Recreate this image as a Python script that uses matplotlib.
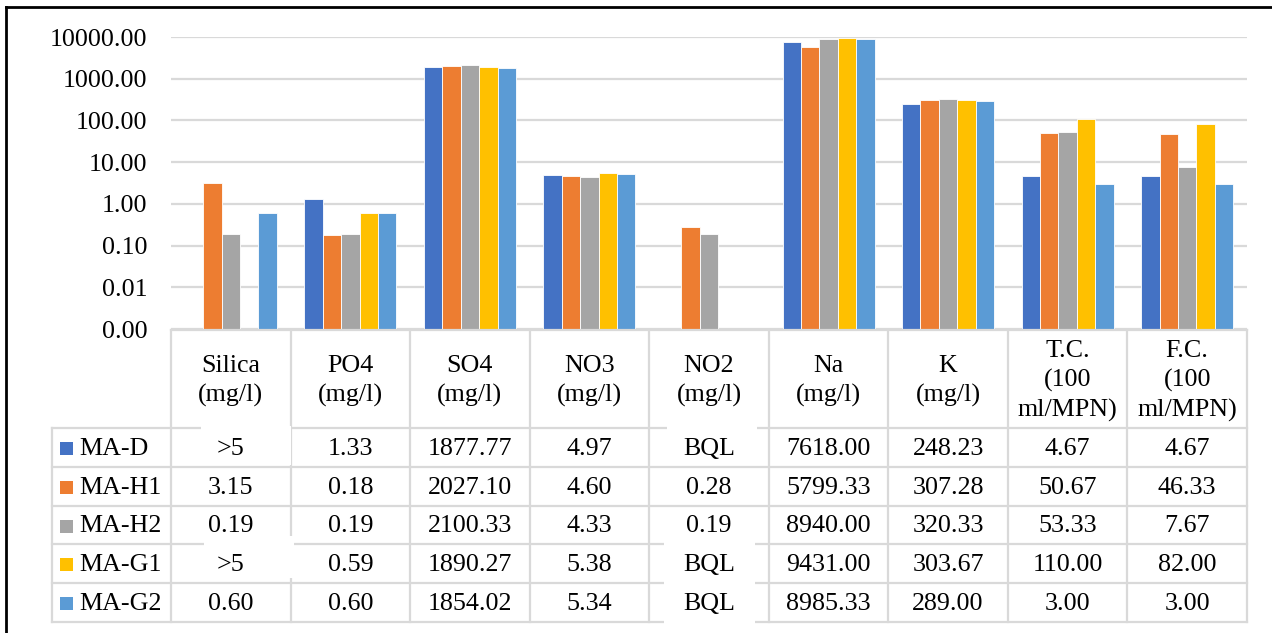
import numpy as np
import matplotlib
matplotlib.use("Agg")
import matplotlib.pyplot as plt
from matplotlib.patches import Rectangle

plt.rcParams['font.family'] = ['Liberation Serif', 'DejaVu Serif']

categories = ["Silica\n(mg/l)", "PO4\n(mg/l)", "SO4\n(mg/l)", "NO3\n(mg/l)", "NO2\n(mg/l)",
              "Na\n(mg/l)", "K\n(mg/l)", "T.C.\n(100\nml/MPN)", "F.C.\n(100\nml/MPN)"]
series = ["MA-D", "MA-H1", "MA-H2", "MA-G1", "MA-G2"]
nan = np.nan
ma_d = [nan, 1.33, 1877.77, 4.97, nan, 7618.00, 248.23, 4.67, 4.67]
ma_h1 = [3.15, 0.18, 2027.10, 4.60, 0.28, 5799.33, 307.28, 50.67, 46.33]
ma_h2 = [0.19, 0.19, 2100.33, 4.33, 0.19, 8940.00, 320.33, 53.33, 7.67]
ma_g1 = [nan, 0.59, 1890.27, 5.38, nan, 9431.00, 303.67, 110.00, 82.00]
ma_g2 = [0.60, 0.60, 1854.02, 5.34, nan, 8985.33, 289.00, 3.00, 3.00]
# what the table shows where no value was plotted
missing_label = [">5", "", "", "", "BQL", "", "", "", ""]
colors = ['#4472C4', '#ED7D31', '#A5A5A5', '#FFC000', '#5B9BD5']

values = [ma_d, ma_h1, ma_h2, ma_g1, ma_g2]

W, H = 1272, 633
fs = 18.7
grid_c = '#D9D9D9'

fig = plt.figure(figsize=(W / 100, H / 100), dpi=100)

# chart area (pixel layout of the reference)
x0, x1 = 171, 1247
ytop, ybot = 37, 329
ax = fig.add_axes([x0 / W, 1 - ybot / H, (x1 - x0) / W, (ybot - ytop) / H])
ax.set_yscale('log')
ax.set_ylim(0.001, 10000)
ax.set_xlim(-0.5, len(categories) - 0.5)

bw = 0.154
x = np.arange(len(categories))
for i, (name, vals) in enumerate(zip(series, values)):
    ax.bar(x + (i - 2) * bw, vals, width=bw, bottom=0.001, color=colors[i],
           edgecolor='white', linewidth=0.6, zorder=3)

yticks = [0.001, 0.01, 0.1, 1, 10, 100, 1000, 10000]
ax.set_yticks(yticks)
ax.set_yticklabels([f"{t:.2f}" for t in yticks], fontsize=fs)
ax.minorticks_off()
ax.set_xticks([])
ax.tick_params(axis='y', length=0, pad=17)
ax.yaxis.grid(True, color=grid_c, linewidth=1.6)
ax.set_axisbelow(True)
for s in ax.spines.values():
    s.set_visible(False)

# overlay in pixel coordinates for the data table and frame
ov = fig.add_axes([0, 0, 1, 1], zorder=5)
ov.set_xlim(0, W)
ov.set_ylim(H, 0)
ov.axis('off')

ncol = len(categories)
cw = (x1 - x0) / ncol
head_top, head_bot, tab_bot = 330, 428, 622
rh = (tab_bot - head_bot) / len(series)
lab_x = 52

lkw = dict(color=grid_c, linewidth=1.6, zorder=1)
ov.plot([x0, x1], [head_top, head_top], **lkw)
for r in range(len(series) + 1):
    yy = head_bot + r * rh
    ov.plot([lab_x, x1], [yy, yy], **lkw)
for c in range(ncol + 1):
    xx = x0 + c * cw
    ov.plot([xx, xx], [head_top, tab_bot], **lkw)
ov.plot([lab_x, lab_x], [head_bot, tab_bot], **lkw)

# white patches pasted over some cells in the original
for (bx, by, bwid, bh) in [(201, 426, 90, 39), (204, 536, 90, 42),
                           (667, 426, 90, 39), (664, 536, 91, 90)]:
    ov.add_patch(Rectangle((bx, by), bwid, bh, facecolor='white', edgecolor='none', zorder=2))

# header
for c, cat in enumerate(categories):
    ov.text(x0 + (c + 0.5) * cw, 381, cat, ha='center', va='center',
            fontsize=fs, linespacing=1.38, zorder=3)

# rows
for r, (name, vals) in enumerate(zip(series, values)):
    cy = head_bot + (r + 0.5) * rh + 1.5
    ov.add_patch(Rectangle((60, cy - 7), 13, 13, facecolor=colors[r], edgecolor='none', zorder=3))
    ov.text(79, cy, name, ha='left', va='center', fontsize=fs, zorder=3)
    for c, v in enumerate(vals):
        txt = missing_label[c] if np.isnan(v) else f"{v:.2f}"
        ov.text(x0 + (c + 0.5) * cw, cy, txt, ha='center', va='center', fontsize=fs, zorder=3)

# frame (left and top only, as cropped)
ov.plot([6, 6], [7, H], color='black', linewidth=2, zorder=4)
ov.plot([6, W], [7, 7], color='black', linewidth=2, zorder=4)

fig.savefig('out.png', dpi=100)
